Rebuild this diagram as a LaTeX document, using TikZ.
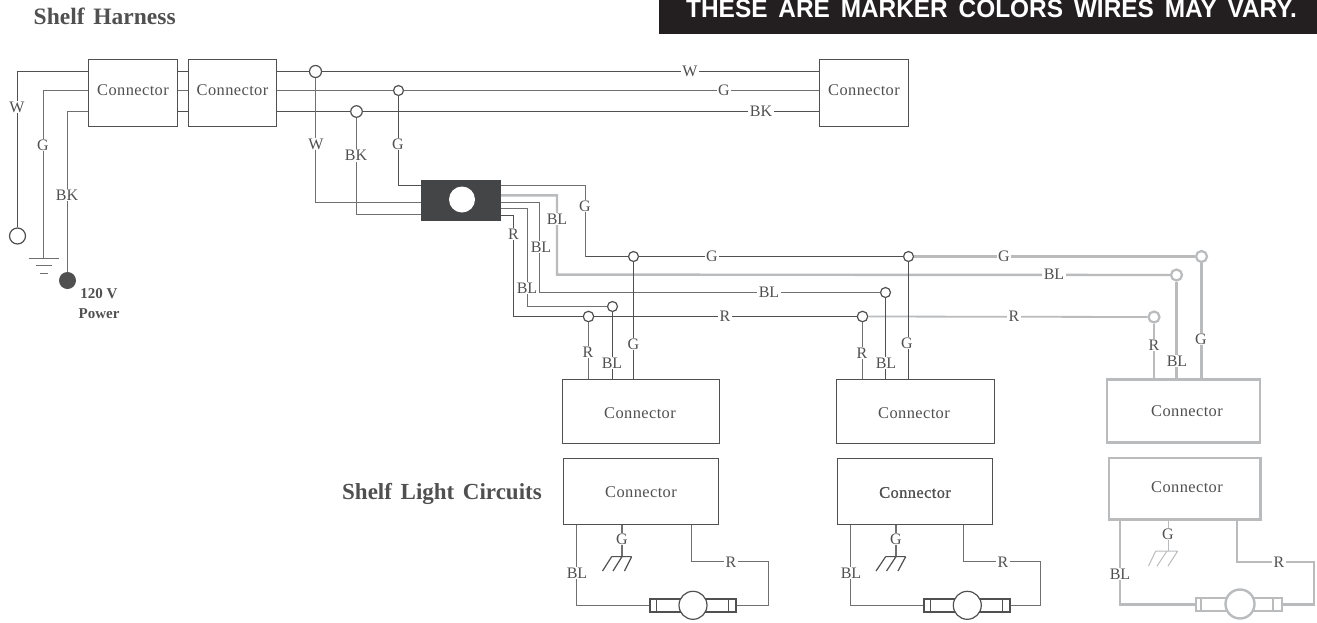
\documentclass[tikz,border=0pt]{standalone}
\usepackage{fontspec}
\setmainfont{Liberation Serif}
\newfontfamily\bannerfont[WordSpace=1.6,FakeStretch=0.957]{Liberation Sans}
\newfontfamily\headfont[WordSpace=1.5]{Liberation Serif}
\newfontfamily\connfont[LetterSpace=2.5]{Liberation Serif}
\definecolor{ink}{HTML}{505050}
\definecolor{mid}{HTML}{707070}
\definecolor{pale}{HTML}{B9BBBD}
\definecolor{blk}{HTML}{231F20}
\definecolor{blockc}{HTML}{444547}
\tikzset{
  wire/.style={draw=ink,line width=1.2pt,line join=miter},
  midwire/.style={draw=mid,line width=1.3pt},
  palewire/.style={draw=pale,line width=2.4pt},
  thinpale/.style={draw=pale,line width=1pt},
  conn/.style={draw=ink,line width=1.2pt,fill=white,inner sep=0pt},
  conntext/.style={inner sep=0pt,text=ink,font=\connfont\fontsize{16.4}{18}\selectfont},
  paleconn/.style={conn,draw=pale,line width=2.6pt},
  junc/.style={circle,draw=ink,line width=1.2pt,fill=white,inner sep=0pt},
  palejunc/.style={circle,draw=pale,line width=2.2pt,fill=white,inner sep=0pt,minimum size=11pt},
  lab/.style={fill=white,inner xsep=1.5pt,inner ysep=1pt,text=ink,font=\fontsize{16}{18}\selectfont},
  head/.style={inner sep=0pt,text=ink,font=\headfont\fontsize{23.3}{26}\selectfont\bfseries},
  motorbar/.style={draw=ink,line width=2.2pt,fill=white,inner sep=0pt,minimum width=86pt,minimum height=13pt},
  motorc/.style={circle,draw=ink,line width=1.2pt,fill=white,inner sep=0pt,minimum size=28pt},
  palebar/.style={motorbar,draw=pale,line width=2.4pt},
  palec/.style={circle,draw=pale,line width=2.4pt,fill=white,inner sep=0pt,minimum size=29pt},
}
\begin{document}
\begin{tikzpicture}[x=1pt,y=-1pt]
\useasboundingbox (0,0) rectangle (1317,622);
% banner and headings
\node[fill=blk,inner sep=0pt,minimum width=658pt,minimum height=34pt,anchor=north west] (banner) at (659,0) {};
\begin{scope}
\clip (659,0) rectangle (1317,34);
\node[inner sep=0pt,text=white,anchor=base east] (bannertext) at (1297,17) {\bannerfont\fontsize{25.5}{30}\selectfont\bfseries THESE ARE MARKER COLORS WIRES MAY VARY.};
\end{scope}
\node[head,anchor=base west] (title) at (33.5,24) {\fontsize{23.5}{26}\selectfont Shelf Harness};
\node[head,anchor=base west] (circuits) at (342,499) {\fontsize{23}{26}\selectfont Shelf Light Circuits};
% boxes
\node[conn,minimum width=89pt,minimum height=67pt] (c1) at (133,93) {};
\node[conn,minimum width=88pt,minimum height=67pt] (c2) at (232.5,93) {};
\node[conn,minimum width=89pt,minimum height=67pt] (c3) at (864,93) {};
\node[conn,minimum width=157pt,minimum height=64pt] (u1) at (641,411.5) {};
\node[conn,minimum width=158pt,minimum height=64pt] (u2) at (915.5,411.5) {};
\node[paleconn,minimum width=153pt,minimum height=63pt] (u3) at (1183.5,410.8) {};
\node[conn,minimum width=155pt,minimum height=66pt] (l1) at (641,491.5) {};
\node[conn,minimum width=155pt,minimum height=66pt] (l2) at (915,491.5) {};
\node[paleconn,minimum width=151.5pt,minimum height=61.5pt] (l3) at (1184.8,488.7) {};
\node[conntext] (c1t) at (133,90.5) {Connector};
\node[conntext] (c2t) at (232.5,90.5) {Connector};
\node[conntext] (c3t) at (864,90.5) {Connector};
\node[conntext] (u1t) at (640,413.5) {Connector};
\node[conntext] (u2t) at (914,413.5) {Connector};
\node[conntext] (u3t) at (1187,411.5) {Connector};
\node[conntext] (l1t) at (641,492) {Connector};
\node[conntext] (l2t) at (915,492.5) {\addfontfeature{FakeBold=0.7}Connector};
\node[conntext] (l3t) at (1187,487.5) {Connector};
% distribution block
\node[fill=blockc,inner sep=0pt,minimum width=80.5pt,minimum height=41pt] (block) at (461,200.3) {};
\node[circle,fill=white,inner sep=0pt,minimum size=26pt] (hole) at (462,199.5) {};
% terminals
\node[circle,draw=ink,line width=1.2pt,fill=white,inner sep=0pt,minimum size=16pt] (neutral) at (17.5,236) {};
\node[circle,fill=ink,inner sep=0pt,minimum size=17pt] (power) at (67.5,280.5) {};
\coordinate (gnd) at (43.5,258);
\node[inner sep=0pt,text=ink,font=\fontsize{15}{20.5}\selectfont\bfseries,align=center] (powerlab) at (99,303.5) {120 V\\Power};
% junctions
\node[junc,minimum size=12pt] (jw) at (315.5,71.5) {};
\node[junc,minimum size=10pt] (jg) at (398.5,90.5) {};
\node[junc,minimum size=11.5pt] (jb) at (356.5,111.5) {};
\node[junc,minimum size=10pt] (g1) at (633.5,256.5) {};
\node[junc,minimum size=10pt] (g2) at (908.5,256.5) {};
\node[palejunc] (g3) at (1201.5,256.5) {};
\node[palejunc] (b3) at (1176.5,275) {};
\node[junc,minimum size=10pt] (b2) at (885.5,292.5) {};
\node[junc,minimum size=10pt] (b1) at (612.5,306.5) {};
\node[junc,minimum size=10.5pt] (r1) at (588.5,316.5) {};
\node[junc,minimum size=10.5pt] (r2) at (862.5,316.5) {};
\node[palejunc] (r3) at (1154,317) {};
% bends
\coordinate (ob1) at (501,185.5); \coordinate (ob2) at (501,195.3); \coordinate (ob3) at (501,202.5);
\coordinate (ob4) at (501,208.5); \coordinate (ob5) at (501,215.5);
% harness wires
\draw[wire] (neutral) |- (c1.west |- jw);
\draw[midwire] (gnd) -- (43.5,90.5) -- (c1.west |- jg);
\draw[midwire] (power) -- (67.5,111.5) -- (c1.west |- jb);
\draw[wire] (c1.east |- jw) -- (c2.west |- jw);
\draw[midwire] (c1.east |- jg) -- (c2.west |- jg);
\draw[wire] (c1.east |- jb) -- (c2.west |- jb);
\draw[wire] (c2.east |- jw) -- (jw) -- (c3.west |- jw);
\draw[midwire] (c2.east |- jg) -- (jg) -- (c3.west |- jg);
\draw[wire] (c2.east |- jb) -- (jb) -- (c3.west |- jb);
% ground symbol at the supply
\draw[midwire] (28.5,258.5) -- (59,258.5) (36,265.5) -- (52,265.5) (40,273.5) -- (47.5,273.5);
% into the block
\draw[midwire] (jw) -- (315.5,202.5) -- (block.west |- 0,202.5);
\draw[midwire] (jb) -- (356.5,214.5) -- (block.west |- 0,214.5);
\draw[wire] (jg) -- (398.5,185.5) -- (block.west |- 0,185.5);
% out of the block
\draw[midwire] (ob1) -| (585.5,256.5);
\draw[wire] (585.5,256.5) -- (g1) -- (g2);
\draw[palewire] (g2) -- (g3);
\draw[palewire] (ob2) -| (557,274.6) -- (b3);
\draw[midwire] (ob3) -| (539.5,292.5) -- (b2);
\draw[midwire] (ob4) -| (527.5,306.5) -- (b1);
\draw[wire] (ob5) -| (513.5,316.5) -- (r1) -- (r2);
\draw[pale,line width=1.8pt] (r2) -- (r3);
% drops
\draw[midwire] (r1) -- (r1 |- u1.north);
\draw[wire] (b1) -- (b1 |- u1.north);
\draw[wire] (g1) -- (g1 |- u1.north);
\draw[midwire] (r2) -- (r2 |- u2.north);
\draw[wire] (b2) -- (b2 |- u2.north);
\draw[wire] (g2) -- (g2 |- u2.north);
\draw[palewire] (r3) -- (r3 |- u3.north);
\draw[palewire] (b3) -- (b3 |- u3.north);
\draw[palewire] (g3) -- (g3 |- u3.north);
% motors
\node[motorbar] (m1) at (693.3,605.5) {};
\draw[wire] (656.5,598.5) -- (656.5,612.5) (728.5,598.5) -- (728.5,612.5);
\node[motorc] (mc1) at (693,605.3) {};
\node[motorbar] (m2) at (967,605.5) {};
\draw[wire] (930.5,598.5) -- (930.5,612.5) (1002.5,598.5) -- (1002.5,612.5);
\node[motorc] (mc2) at (967.3,605.3) {};
\node[palebar] (m3) at (1238.8,604.5) {};
\draw[pale,line width=1.6pt] (1201,598) -- (1201,611) (1273,598) -- (1273,611);
\node[palec] (mc3) at (1240,604) {};
% circuit wires
\draw[midwire] (l1.south -| 576.5,0) |- (m1.west);
\draw[midwire] (l1.south -| 691.5,0) |- (768.5,561.5) |- (m1.east);
\draw[midwire] (l2.south -| 850.5,0) |- (m2.west);
\draw[midwire] (l2.south -| 963.5,0) |- (1040.5,561.5) |- (m2.east);
\draw[palewire] (l3.south -| 1120,0) |- (m3.west);
\draw[palewire] (l3.south -| 1237,0) |- (1314,562) |- (m3.east);
% chassis grounds
\coordinate (h1) at (622,556.6);
\draw[midwire] (l1.south -| h1) -- (h1);
\draw[wire] (611.7,556.6) -- (631.7,556.6) (611.7,556.6) -- (602.5,571) (622,556.6) -- (613,571) (631.7,556.6) -- (624.5,571);
\coordinate (h2) at (896,556.6);
\draw[midwire] (l2.south -| h2) -- (h2);
\draw[wire] (885.7,556.6) -- (905.7,556.6) (885.7,556.6) -- (876,571) (896,556.6) -- (886.5,571) (905.7,556.6) -- (898,571);
\coordinate (h3) at (1168,551);
\draw[thinpale] (l3.south -| h3) -- (h3);
\draw[thinpale] (1155.7,551) -- (1177.7,551) (1155.7,551) -- (1148.5,566) (1167,551) -- (1157,566) (1177.7,551) -- (1168,566);
% wire labels
\node[lab] (lw1) at (17,107) {W};
\node[lab] (lg1) at (43,145) {G};
\node[lab] (lb1) at (67,195) {BK};
\node[lab] (lw2) at (316,144) {W};
\node[lab] (lb2) at (356,155.5) {BK};
\node[lab] (lg2) at (398,144) {G};
\node[lab] (lw3) at (690,71.5) {W};
\node[lab] (lg3) at (724,90) {G};
\node[lab] (lb3) at (761,111.5) {BK};
\node[lab] (la1) at (585,206) {G};
\node[lab] (la2) at (557,219) {BL};
\node[lab] (la3) at (541,247) {BL};
\node[lab] (la4) at (527,288) {BL};
\node[lab] (la5) at (513.5,234) {R};
\node[lab] (la6) at (712,256.3) {G};
\node[lab] (la7) at (1004,256.3) {G};
\node[lab] (la8) at (1054,274.6) {BL};
\node[lab] (la9) at (769,292.6) {BL};
\node[lab] (la10) at (725,316.7) {R};
\node[lab] (la11) at (1014,316.7) {R};
\node[lab] (d1) at (588,352) {R};
\node[lab] (d2) at (612,363) {BL};
\node[lab] (d3) at (633.5,344) {G};
\node[lab] (d4) at (862,353) {R};
\node[lab] (d5) at (886,363) {BL};
\node[lab] (d6) at (907,343) {G};
\node[lab] (d7) at (1154,345) {R};
\node[lab] (d8) at (1177,361) {BL};
\node[lab] (d9) at (1201,339) {G};
\node[lab] (e1) at (577,573) {BL};
\node[lab] (e2) at (622,539) {G};
\node[lab] (e3) at (731,562) {R};
\node[lab] (e4) at (851,573) {BL};
\node[lab] (e5) at (896,539) {G};
\node[lab] (e6) at (1003,562) {R};
\node[lab] (e7) at (1120,574) {BL};
\node[lab] (e8) at (1168,534) {G};
\node[lab] (e9) at (1279,562) {R};
\end{tikzpicture}
\end{document}
